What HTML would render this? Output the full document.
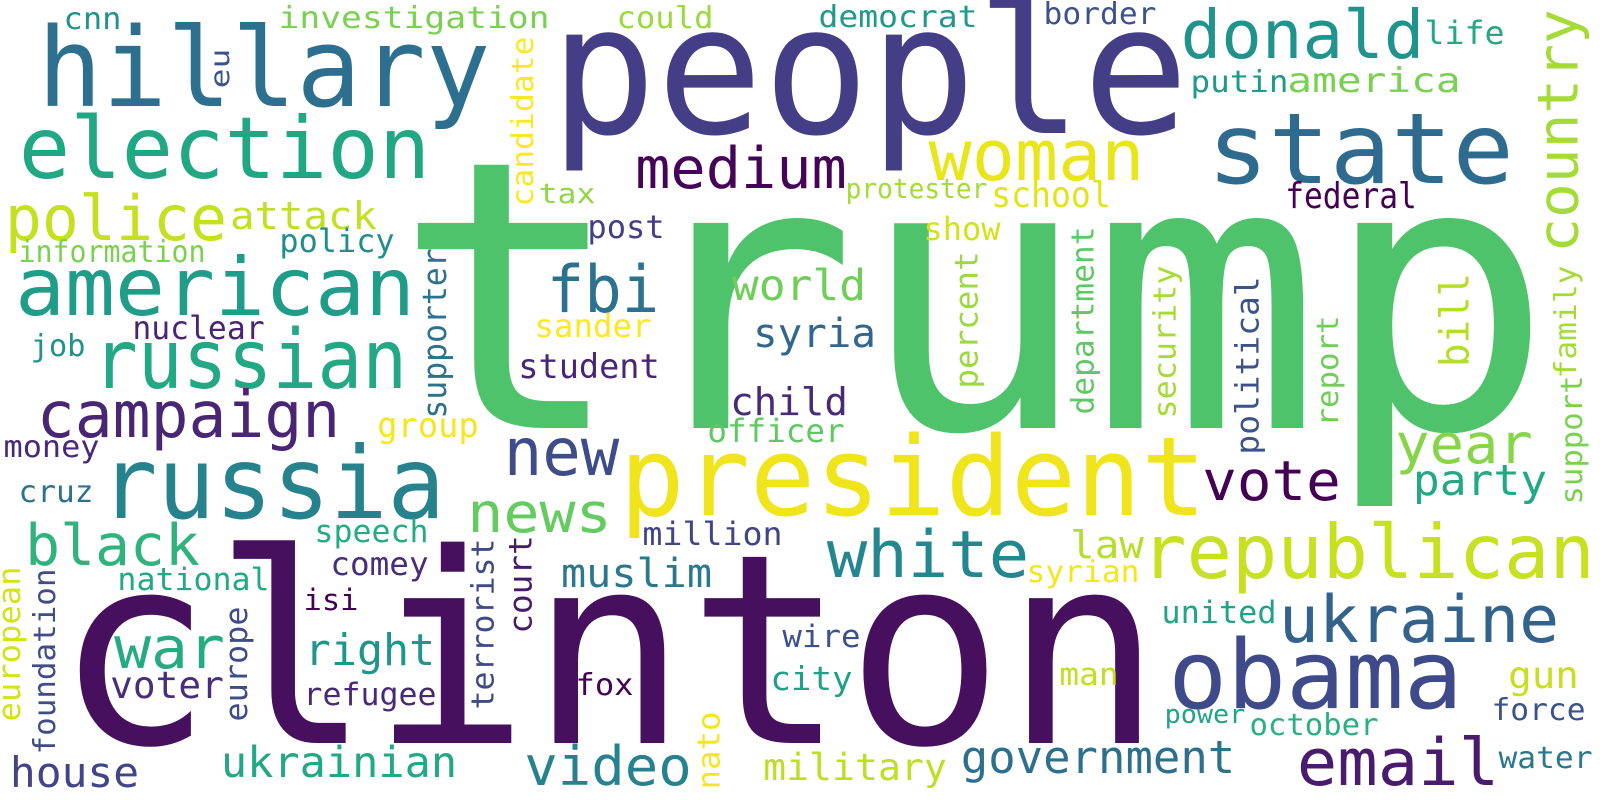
<!DOCTYPE html>
<html><head><meta charset="utf-8"><style>
html,body{margin:0;padding:0;background:#fff;width:1600px;height:800px;overflow:hidden}
svg text{font-family:"DejaVu Sans Mono","Liberation Mono",monospace}
</style></head><body>
<svg id="cloud" width="1600" height="800" viewBox="0 0 1600 800" xmlns="http://www.w3.org/2000/svg">
<rect width="1600" height="800" fill="#fff"/>
</svg>
<script>
// word list, font sizes (weights) and colours
const words = ["trump","clinton","people","hillary","election","state","president","russia","american","russian","republican","obama","donald","woman","campaign","police","ukraine","email","white","fbi","new","medium","black","war","country","news","year","video","vote","government","right","ukrainian","house","world","party","syria","muslim","child","bill","attack","law","military","voter","student","group","gun","city","school","federal","america","sander","officer","policy","supporter","nuclear","post","show","speech","comey","million","national","department","security","political","report","family","support","terrorist","court","european","foundation","europe","refugee","isi","syrian","united","wire","man","fox","nato","power","october","force","water","cnn","investigation","could","democrat","border","life","putin","candidate","tax","protester","information","job","money","cruz","eu","percent"];
const sizes = [375,265,180,110,86,98,110,100,80,82,75,95,67,70,64,62,65,65,65,65,66,57,57,58,56,55,55,54,55,45,44,43,42,43,43,40,40,38,40,38,38,37,37,34,34,37,33,36,36,34,32,32,32,33,32,32,32,31,32,32,31,31,31,32,30,30,30,31,32,31,30,31,31,29,30,31,31,31,30,31,26,30,30,30,30,30,30,30,30,32,30,30,28,28,30,30,30,30,27,32];
const colors = ["#4fc36b","#46105e","#433e85","#2c6f8e","#22a784","#2f6b8e","#f0e51d","#26838e","#1f9d89","#22a884","#c7e020","#3e4a89","#20938c","#e8e51a","#482575","#c5e021","#33638d","#481b6d","#24868e","#2c718e","#3e4c8a","#450457","#2eb37c","#25ab82","#a5db36","#63cb5f","#86d549","#26828e","#440154","#2d708e","#1f968b","#22a884","#414487","#6ece58","#22a884","#31668e","#2a788e","#472a7a","#b5de2b","#c2df23","#b5de2b","#bddf26","#472d7b","#482576","#f6e620","#c5e021","#1fa088","#e2e418","#440154","#7ad151","#fde725","#5ec962","#228d8d","#2c728e","#482475","#433e85","#d2e21b","#25ab82","#472d7b","#414487","#22a884","#5ec962","#a5db36","#3b528b","#6ece58","#a5db36","#7ad151","#3e4989","#481a6c","#d2e21b","#3e4c8a","#3e4c8a","#482878","#440154","#f4e61e","#20a386","#3b528b","#c2df23","#440154","#f4e61e","#20a386","#2ab07f","#3b528b","#2a788e","#21918c","#7ad151","#9bd93c","#1f9a8a","#3b528b","#22a884","#1f998a","#fde725","#8fd744","#a5db36","#7ad151","#21918c","#482878","#2c728e","#3b528b","#9bd93c"];
// layout: x0, x1, baseline-or-bottom, top (vertical only); vertical flag
const boxes = [
[412,1535,428,0],[68,1149,743,0],[559,1180,133,0],[43,485,106,0],[23,426,178,0],[1212,1509,183,0],[625,1201,515,0],[105,440,518,0],[19,411,315,0],[97,403,388,0],[1145,1591,578,0],[1173,1458,708,0],[1184,1421,58,0],[932,1141,180,0],[40,337,437,0],[8,224,240,0],[1282,1556,642,0],[1300,1496,785,0],[830,1026,577,0],[550,656,312,0],[507,616,475,0],[638,844,188,0],[28,197,565,0],[117,222,668,0],[1535,1586,250,12],[470,609,532,0],[1398,1530,463,0],[527,689,785,0],[1205,1338,500,0],[963,1233,773,0],[307,433,665,0],[223,455,777,0],[12,137,787,0],[734,864,300,0],[1415,1545,495,0],[755,874,347,0],[563,710,587,0],[732,846,415,0],[1438,1468,365,275],[232,375,229,0],[1072,1142,558,0],[765,945,780,0],[112,222,698,0],[520,658,378,0],[379,477,437,0],[1510,1577,688,0],[772,851,690,0],[993,1109,207,0],[1287,1415,208,0],[1289,1459,92,0],[536,650,337,0],[709,843,442,0],[281,393,252,0],[421,444,417,250],[134,263,339,0],[589,663,238,0],[925,999,240,0],[316,427,542,0],[332,427,575,0],[644,781,545,0],[119,268,590,0],[1070,1096,413,228],[1152,1178,417,267],[1234,1262,453,278],[1315,1338,425,317],[1553,1581,377,267],[1559,1584,503,377],[470,493,708,540],[507,529,632,537],[3,23,720,568],[32,57,753,570],[230,250,720,608],[305,435,705,0],[305,357,610,0],[1028,1138,582,0],[1163,1275,623,0],[784,859,647,0],[1061,1117,685,0],[577,632,695,0],[696,721,788,713],[1166,1244,723,0],[1251,1377,735,0],[1493,1584,720,0],[1500,1591,768,0],[65,120,29,0],[280,548,28,0],[618,712,28,0],[820,976,27,0],[1045,1155,24,0],[1426,1503,44,0],[1192,1287,92,0],[510,533,205,38],[540,594,203,0],[847,986,198,0],[20,204,262,0],[32,84,356,0],[5,98,457,0],[20,92,502,0],[214,234,87,50],[953,976,387,253]
];
const svg = document.getElementById('cloud');
const NS = 'http://www.w3.org/2000/svg';
const ascRe = /[bdfhiklt]/;
for (let i = 0; i < words.length; i++) {
  const w = words[i], s = sizes[i], b = boxes[i];
  const t = document.createElementNS(NS, 'text');
  
  
  t.setAttribute('font-size', s);
  t.setAttribute('fill', colors[i]);
  t.setAttribute('lengthAdjust', 'spacingAndGlyphs');
  if (b[3] === 0) {
    t.setAttribute('x', b[0] - 0.05 * s);
    t.setAttribute('y', b[2]);
    t.setAttribute('textLength', (b[1] - b[0]) + 0.1 * s);
  } else {
    const asc = ascRe.test(w) ? 0.76 : 0.55;
    const bx = b[0] + asc * s;
    const by = b[2] + 0.05 * s;
    t.setAttribute('transform', 'translate(' + bx + ',' + by + ') rotate(-90)');
    t.setAttribute('x', 0);
    t.setAttribute('y', 0);
    t.setAttribute('textLength', (b[2] - b[3]) + 0.1 * s);
  }
  t.textContent = w;
  svg.appendChild(t);
}
</script>
</body></html>
